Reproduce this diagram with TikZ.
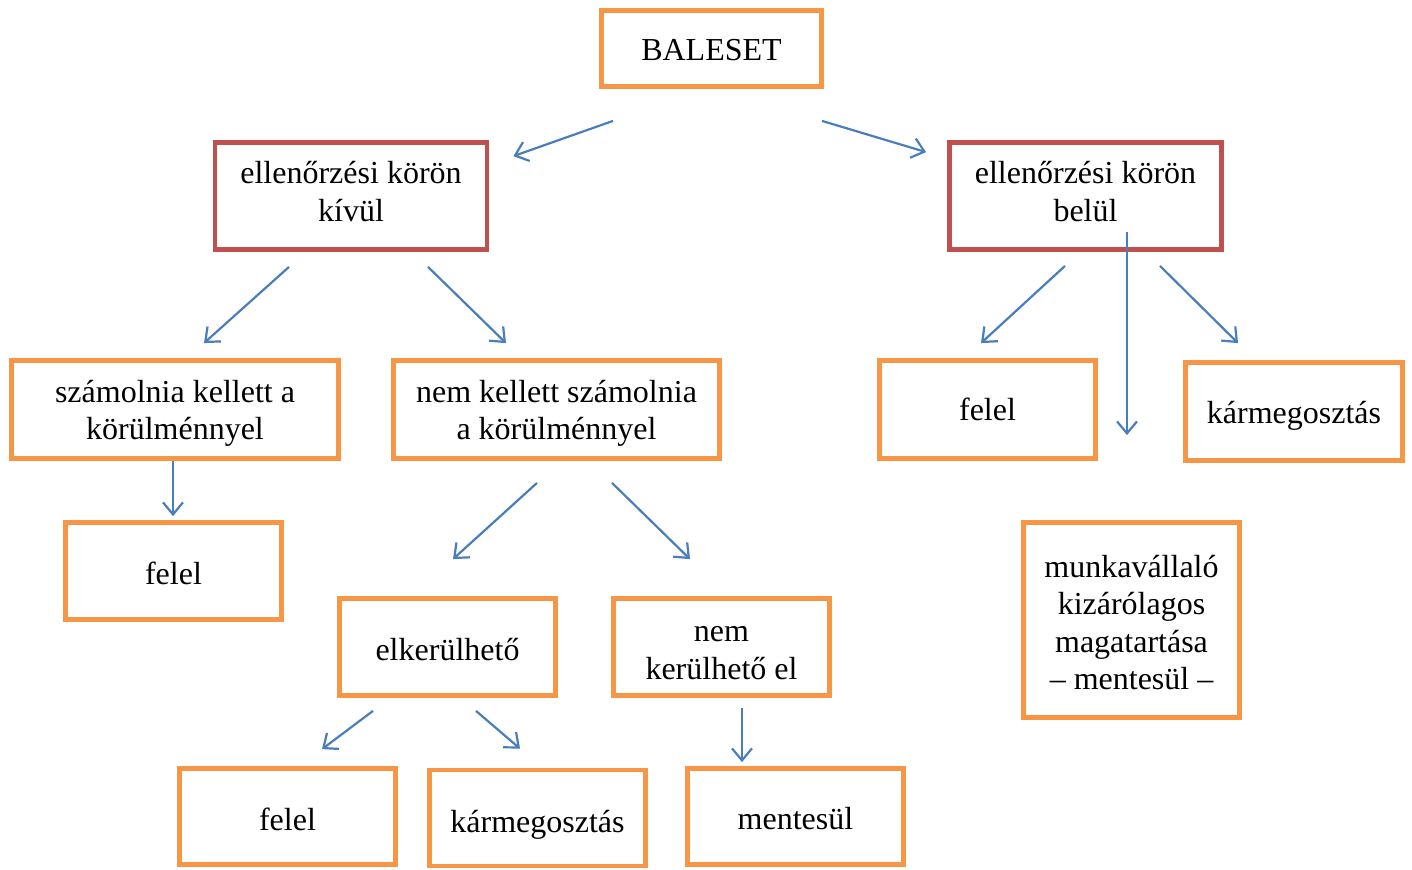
\documentclass[tikz,border=0pt]{standalone}
\usepackage{fontspec}
\setmainfont{Liberation Serif}
\usepackage{xcolor}
\definecolor{blorange}{HTML}{F79646}
\definecolor{blred}{HTML}{C0504D}
\definecolor{blblue}{HTML}{4A7EBB}
\usepackage{tikz}
\usetikzlibrary{arrows.meta,positioning,calc}
% text of a box, moved up or down by the optional amount
\newcommand{\boxtext}[2][0pt]{\raisebox{#1}[\height][\depth]{\begin{tabular}{@{}c@{}}#2\end{tabular}}}

\begin{document}
\begin{tikzpicture}[x=0.5pt,y=-0.5pt,
  box/.style={draw=blorange,line width=2.4pt,inner sep=2pt,
    minimum width=108pt,minimum height=48.5pt,
    font=\fontsize{16}{18.7}\selectfont},
  redbox/.style={box,draw=blred,minimum width=136pt,minimum height=53.5pt},
  arr/.style={draw=blblue,line width=1.1pt,-{Straight Barb[length=6pt,width=10pt]}}]
\useasboundingbox (0,0) rectangle (1412,869);
% top level
\node[box,minimum width=110pt,minimum height=38pt] (baleset) at (711.5,48.5) {\boxtext[-2.5pt]{BALESET}};
\node[redbox] (kivul) at (351,196) {\boxtext[0.5pt]{ellenőrzési körön\\kívül}};
\node[redbox] (belul) at (1085.5,196) {\boxtext[0.5pt]{ellenőrzési körön\\belül}};
% second level
\node[box,minimum width=163.5pt,minimum height=49pt] (szamolnia) at (175,409.5) {\boxtext[-2pt]{számolnia kellett a\\körülménnyel}};
\node[box,minimum width=163pt,minimum height=49pt] (nemkell) at (556.5,409.5) {\boxtext[-2pt]{nem kellett számolnia\\a körülménnyel}};
\node[box,minimum height=49pt] (felelR) at (987.5,409.5) {\boxtext[-2pt]{felel}};
\node[box,minimum width=108.5pt,minimum height=49pt] (karmR) at (1294,411.5) {\boxtext[-2.5pt]{kármegosztás}};
% third level
\node[box] (felelL) at (173.5,571) {\boxtext[-3pt]{felel}};
\node[box,minimum height=97.5pt] (munka) at (1131.5,620) {\boxtext[-3pt]{munkavállaló\\kizárólagos\\magatartása\\– mentesül –}};
\node[box] (elker) at (447.5,647) {\boxtext[-3pt]{elkerülhető}};
\node[box] (nemker) at (721.5,647) {\boxtext[-3pt]{nem\\kerülhető el}};
% bottom
\node[box,minimum height=48pt] (felelB) at (287.5,816.5) {\boxtext[-3.5pt]{felel}};
\node[box,minimum height=48pt] (karmB) at (537.5,818) {\boxtext[-3.5pt]{kármegosztás}};
\node[box,minimum height=48pt] (mentesul) at (795.5,816.5) {\boxtext[-3pt]{mentesül}};
% arrows
\draw[arr] ($(baleset.south)+(-98.5,32)$) -- ($(kivul.north east)+(24,16)$);
\draw[arr] ($(baleset.south)+(110.5,32)$) -- ($(belul.north west)+(-21,12)$);
\draw[arr] ($(kivul.south)+(-62,15)$) -- ($(szamolnia.north)+(29,-15)$);
\draw[arr] ($(kivul.south)+(77,15)$) -- ($(nemkell.north)+(-50.5,-15)$);
\draw[arr] ($(szamolnia.south)+(-2,0)$) -- ($(felelL.north)+(-0.5,-4)$);
\draw[arr] ($(nemkell.south)+(-19.5,22)$) -- ($(elker.north)+(5.5,-37)$);
\draw[arr] ($(nemkell.south)+(55.5,22)$) -- ($(nemker.north)+(-31.5,-37)$);
\draw[arr] ($(elker.south)+(-74.5,13)$) -- ($(felelB.north)+(34.5,-17)$);
\draw[arr] ($(elker.south)+(28.5,13)$) -- ($(karmB.north)+(-17.5,-19)$);
\draw[arr] ($(nemker.south)+(20.5,10)$) -- ($(mentesul.north)+(-53.5,-4)$);
\draw[arr] ($(belul.south)+(-20.5,14)$) -- ($(felelR.north)+(-6.5,-15)$);
\draw[arr] ($(belul.south)+(41.5,-20)$) -- ($(munka.north)+(-4.5,-85)$);
\draw[arr] ($(belul.south)+(74.5,14)$) -- ($(karmR.north)+(-56,-17)$);
\end{tikzpicture}
\end{document}
